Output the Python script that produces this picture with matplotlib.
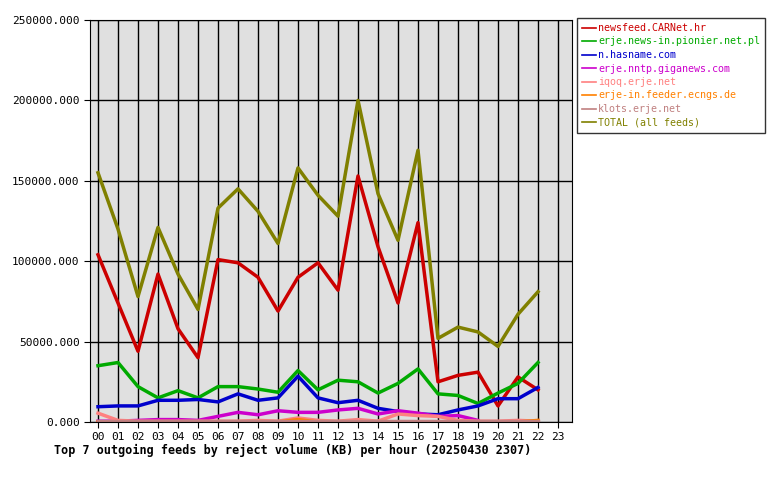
import matplotlib
matplotlib.use("Agg")
import matplotlib.pyplot as plt

hours = ["%02d" % h for h in range(24)]
total = [155000, 120000, 78000, 121000, 92000, 70000, 133000, 145000, 131000, 111000, 158000, 141000,
         128000, 200000, 142000, 113000, 169000, 52000, 59000, 56000, 47000, 67000, 81000]
carnet = [104000, 74000, 44000, 92000, 58000, 40000, 101000, 99000, 90000, 69000, 90000, 99000,
          82000, 153000, 109000, 74000, 124000, 25000, 29000, 31000, 10000, 28000, 20000]
pionier = [35000, 37000, 22000, 15000, 19500, 15000, 22000, 22000, 20500, 18500, 32000, 20000,
           26000, 25000, 18000, 24000, 33000, 17500, 16500, 11500, 18000, 24000, 37000]
hasname = [9500, 10000, 10000, 13500, 13500, 14000, 12500, 17500, 13500, 15000, 28500, 15000,
           12000, 13500, 8500, 6500, 5000, 4500, 7500, 10000, 14500, 14500, 21500]
giganews = [500, 500, 1000, 1500, 1500, 1000, 3500, 6000, 4500, 7000, 6000, 6000,
            7500, 8500, 5000, 7000, 5500, 3500, 4000, 1000]
iqoq = [5500, 1000, 500, 500, 500, 500, 500, 500, 1000, 500, 2500, 1000,
        500, 1500, 500, 5000, 4000, 3500, 1000, 500, 500, 1000, 500]
ecngs = [0, 0, 0, 0, 0, 0, 0, 0, 0, 0, 1500, 0, 0, 0, 0, 0, 0, 0, 0, 0, 0, 0, 1000]
klots = [500] * 23

series = [
    ("newsfeed.CARNet.hr", carnet, "#cc0000"),
    ("erje.news-in.pionier.net.pl", pionier, "#00aa00"),
    ("n.hasname.com", hasname, "#0000cc"),
    ("erje.nntp.giganews.com", giganews, "#cc00cc"),
    ("iqoq.erje.net", iqoq, "#ff8080"),
    ("erje-in.feeder.ecngs.de", ecngs, "#ff8000"),
    ("klots.erje.net", klots, "#c08080"),
    ("TOTAL (all feeds)", total, "#808000"),
]

fig = plt.figure(figsize=(7.8, 4.8), dpi=100)
ax = fig.add_axes([90 / 780, 58 / 480, 482 / 780, 402 / 480])
ax.set_facecolor("#e0e0e0")
for name, vals, col in series:
    ax.plot(range(len(vals)), vals, color=col, lw=2.5, label=name)

ax.set_xlim(-0.4, 23.7)
ax.set_ylim(0, 250000)
ax.set_xticks(range(24))
ax.set_xticklabels(hours)
ax.set_yticks(range(0, 250001, 50000))
ax.set_yticklabels(["%d.000" % v for v in range(0, 250001, 50000)])
ax.grid(True, color="black", lw=1)
ax.set_axisbelow(True)
ax.tick_params(labelsize=8, length=4)
for lab in ax.get_xticklabels() + ax.get_yticklabels():
    lab.set_family("DejaVu Sans Mono")
ax.set_xlabel("Top 7 outgoing feeds by reject volume (KB) per hour (20250430 2307)",
              family="DejaVu Sans Mono", fontweight="bold", fontsize=8.5, loc="left", labelpad=2)
ax.xaxis.set_label_coords(-0.075, -0.055)

leg = fig.legend(loc="upper left", bbox_to_anchor=(577 / 780, 1 - 18 / 480), frameon=True,
                 fancybox=False, edgecolor="black", handlelength=1.4, handletextpad=0.2,
                 prop={"family": "DejaVu Sans Mono", "size": 7.2}, labelspacing=0.35,
                 borderpad=0.5, borderaxespad=0)
for t, (_, _, col) in zip(leg.get_texts(), series):
    t.set_color(col)
for h in leg.get_lines():
    h.set_linewidth(1.2)

fig.savefig("out.png", dpi=100)
